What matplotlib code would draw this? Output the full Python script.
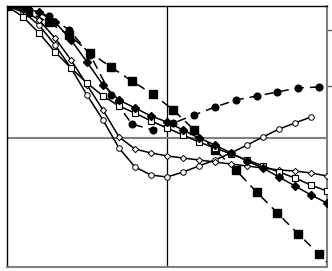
import matplotlib
matplotlib.use("Agg")
import matplotlib.pyplot as plt

# x positions
x_fine = [0, 1, 2, 3, 4, 5, 6, 7, 8, 9, 10, 11, 12, 13, 14, 15, 16, 17, 18, 19, 20]
x_coarse = [0, 1.3, 2.6, 3.9, 5.2, 6.5, 7.8, 9.1, 10.4, 11.7, 13.0, 14.3, 15.6, 16.9, 18.2, 19.5, 20.8]

# series values
big_squares = [1.015, 0.97, 0.89, 0.79, 0.654, 0.546, 0.438, 0.338, 0.215, 0.062,
               -0.092, -0.246, -0.415, -0.577, -0.738, -0.892, -1.054]
filled_circles = [1.015, 0.99, 0.94, 0.83, 0.64, 0.33, 0.108, 0.062, 0.115, 0.177,
                  0.238, 0.292, 0.323, 0.354, 0.385, 0.392]
open_circles = [1.015, 0.969, 0.869, 0.715, 0.538, 0.331, 0.138, -0.077, -0.223, -0.285,
                -0.3, -0.262, -0.215, -0.169, -0.115, -0.054, 0.008, 0.069, 0.115, 0.162]
open_diamonds = [1.015, 0.985, 0.908, 0.769, 0.60, 0.408, 0.215, 0.008, -0.085, -0.115,
                 -0.138, -0.154, -0.169, -0.185, -0.2, -0.215, -0.231, -0.246, -0.254, -0.269, -0.292]
open_squares = [1.015, 0.931, 0.808, 0.662, 0.538, 0.423, 0.323, 0.246, 0.192, 0.131,
                0.077, 0.023, -0.031, -0.077, -0.123, -0.169, -0.215, -0.262, -0.308, -0.362, -0.408]
filled_diamonds = [1.015, 1.0, 0.969, 0.892, 0.754, 0.585, 0.408, 0.292, 0.231, 0.169,
                   0.123, 0.062, 0.0, -0.054, -0.115, -0.177, -0.231, -0.3, -0.369, -0.438, -0.5]
right_ticks = [0.831, 0.40]

W, H = 332, 271
fig = plt.figure(figsize=(W / 100, H / 100), dpi=100)
ax = fig.add_axes([7 / W, 4 / H, 320 / W, 261 / H])
ax.set_xlim(0, 20)
ax.set_ylim(-0.992, 1.015)

ax.axvline(10, color="black", lw=0.9, zorder=1)
ax.axhline(0, color="#808080", lw=1.5, zorder=1)

lw = 1.1
ax.plot(x_coarse, big_squares, color="black", lw=lw, ls=(0, (6, 4)), marker="s",
        ms=5.5, mfc="black", mec="black", zorder=3)
ax.plot(x_coarse[:len(filled_circles)], filled_circles, color="black", lw=lw, ls=(0, (6, 4)),
        marker="o", ms=4.8, mfc="black", mec="black", zorder=3)
ax.plot(x_fine[:len(open_circles)], open_circles, color="black", lw=lw, marker="o", ms=4.0,
        mfc="white", mec="black", mew=0.7, zorder=3)
ax.plot(x_fine, open_diamonds, color="black", lw=lw, marker="D", ms=3.2,
        mfc="white", mec="black", mew=0.7, zorder=3)
ax.plot(x_fine, open_squares, color="black", lw=lw, marker="s", ms=5.0,
        mfc="white", mec="black", mew=0.8, zorder=3)
ax.plot(x_fine, filled_diamonds, color="black", lw=lw, marker="D", ms=4.2,
        mfc="black", mec="black", zorder=3)

for side in ["left", "top"]:
    ax.spines[side].set_color("black")
    ax.spines[side].set_linewidth(1.0)
for side in ["right", "bottom"]:
    ax.spines[side].set_color("#808080")
    ax.spines[side].set_linewidth(1.5)

ax.set_xticks([])
ax.yaxis.tick_right()
ax.set_yticks(right_ticks)
ax.set_yticklabels([])
ax.tick_params(axis="y", direction="out", length=4, width=1, color="#606060")

fig.savefig("out.png", dpi=100)
